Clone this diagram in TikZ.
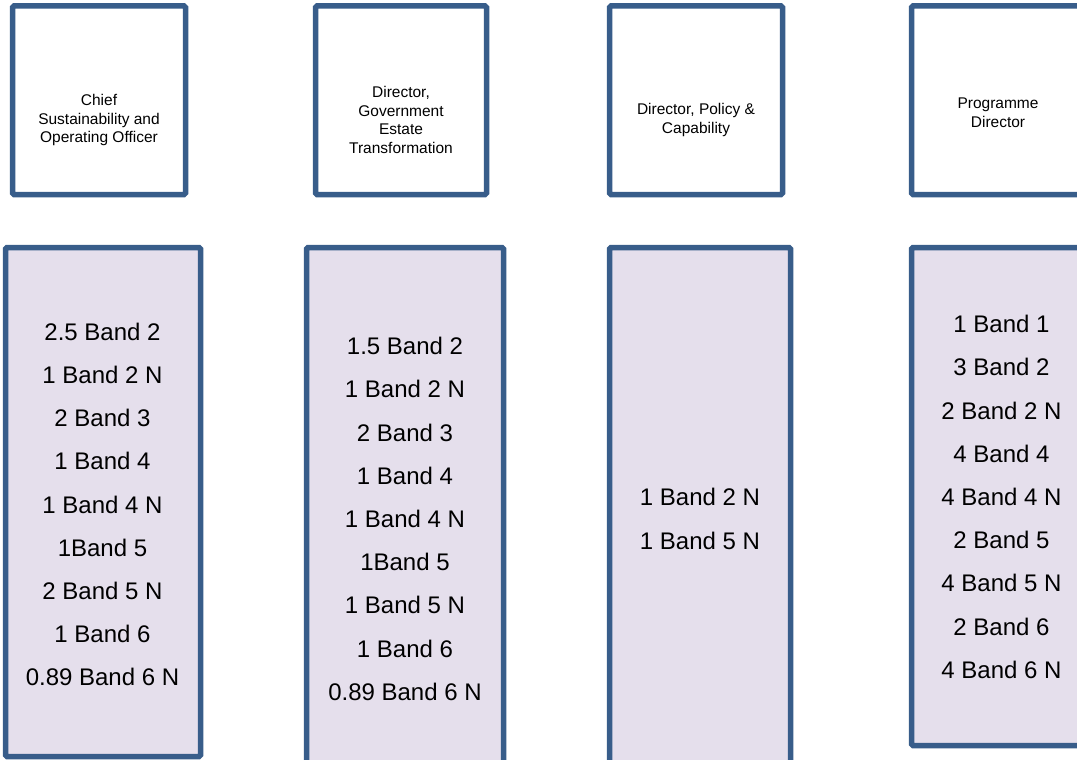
\documentclass[tikz,border=0pt]{standalone}
\usepackage{fontspec}
\setmainfont{Liberation Sans}
\definecolor{edgeblue}{HTML}{385D8A}
\definecolor{bandfill}{HTML}{E5DFEC}
\tikzset{
  rolebox/.style={draw=edgeblue, line width=5.5pt, fill=white, rounded corners=1.5pt,
    inner sep=0pt, outer sep=0pt},
  bandbox/.style={rolebox, fill=bandfill},
  roletext/.style={align=center, inner sep=0pt, font=\fontsize{15.5}{18.7}\selectfont},
  bandtext/.style={align=center, inner sep=0pt, font=\fontsize{24}{43.2}\selectfont}
}
\begin{document}
\begin{tikzpicture}[x=1pt, y=-1pt]
  \useasboundingbox (0,0) rectangle (1077,760);

  % role boxes
  \node[rolebox, minimum width=173pt, minimum height=188.5pt] (r1) at (99,100.25) {};
  \node[rolebox, minimum width=171pt, minimum height=188.5pt] (r2) at (401,100.25) {};
  \node[rolebox, minimum width=173pt, minimum height=188.5pt] (r3) at (696,100.25) {};
  \node[rolebox, minimum width=173pt, minimum height=188.5pt] (r4) at (998,100.25) {};

  \node[roletext] (t1) at (99,120) {Chief\\Sustainability and\\Operating Officer};
  \node[roletext] (t2) at (401,120) {Director,\\Government\\Estate\\Transformation};
  \node[roletext] (t3) at (696,120) {Director, Policy \&\\Capability};
  \node[roletext] (t4) at (998,113) {Programme\\Director};

  % band boxes
  \node[bandbox, minimum width=195pt, minimum height=509pt] (b1) at (103,502) {};
  \node[bandbox, minimum width=197pt, minimum height=560pt] (b2) at (405,527.5) {};
  \node[bandbox, minimum width=181pt, minimum height=560pt] (b3) at (700,527.5) {};
  \node[bandbox, minimum width=200pt, minimum height=498pt] (b4) at (1011.5,496.5) {};

  \node[bandtext] (l1) at (102.5,504.5) {2.5 Band 2\\1 Band 2 N\\2 Band 3\\1 Band 4\\1 Band 4 N\\1Band 5\\2 Band 5 N\\1 Band 6\\0.89 Band 6 N};
  \node[bandtext] (l2) at (405,519) {1.5 Band 2\\1 Band 2 N\\2 Band 3\\1 Band 4\\1 Band 4 N\\1Band 5\\1 Band 5 N\\1 Band 6\\0.89 Band 6 N};
  \node[bandtext] (l3) at (700,519) {1 Band 2 N\\1 Band 5 N};
  \node[bandtext] (l4) at (1001.5,497) {1 Band 1\\3 Band 2\\2 Band 2 N\\4 Band 4\\4 Band 4 N\\2 Band 5\\4 Band 5 N\\2 Band 6\\4 Band 6 N};
\end{tikzpicture}
\end{document}
